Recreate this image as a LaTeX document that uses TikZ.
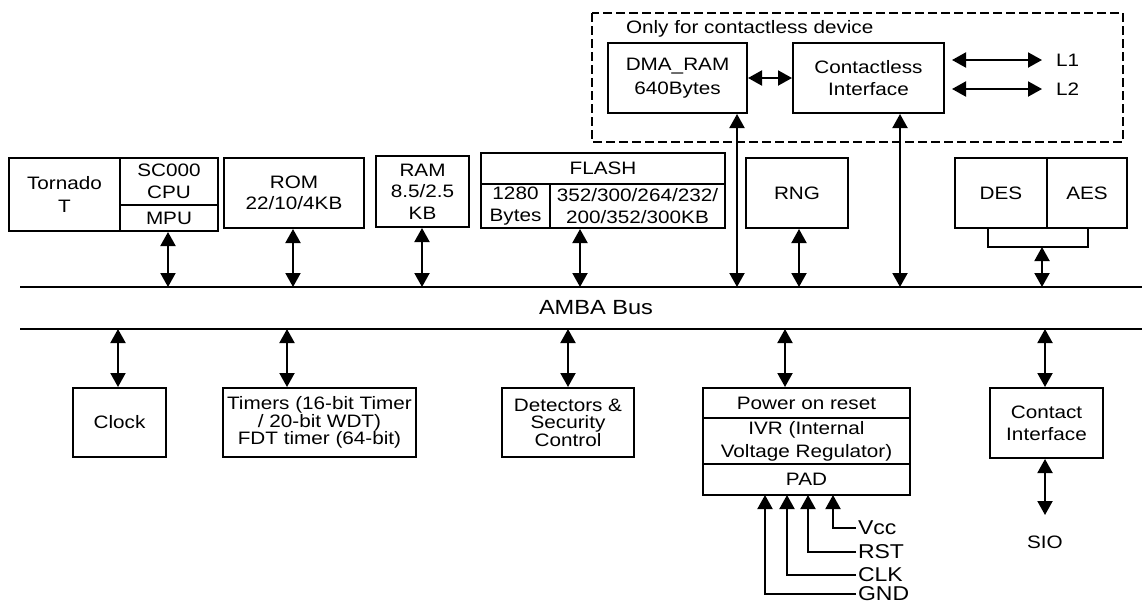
\documentclass[tikz,border=0pt]{standalone}
\usepackage{fontspec}
\setmainfont{Liberation Sans}[FakeStretch=1.15]
\usetikzlibrary{arrows.meta}
\begin{document}
\begin{tikzpicture}[x=1pt,y=-1pt,line width=2pt,
  >={Triangle[width=15pt,length=14pt]},
  box/.style={draw,line width=2pt,inner sep=0pt,align=center,font=\fontsize{18}{22}\selectfont},
  tight/.style={font=\fontsize{18}{17.5}\selectfont},
  lbl/.style={inner sep=0pt,font=\fontsize{18}{22}\selectfont},
  biglbl/.style={inner sep=1pt,font=\fontsize{20}{24}\selectfont},
  busline/.style={line width=2pt},
  dashbox/.style={line width=2pt,dash pattern=on 9pt off 4pt}]
\useasboundingbox (0,0) rectangle (1142,603);
% dashed region
\draw[dashbox] (592,13) rectangle (1123,142);
\node[lbl,anchor=base west] (only) at (625,33) {Only for contactless device};
\node[box,minimum width=139pt,minimum height=70pt,font=\fontsize{18}{24}\selectfont] (dma) at (677.5,78) {DMA\_RAM\\640Bytes};
\node[box,minimum width=151pt,minimum height=70pt] (ci) at (868.5,78) {Contactless\\Interface};
\draw[<->] (dma.east) -- (ci.west);
\coordinate (l1s) at (952,60); \coordinate (l1e) at (1042,60);
\coordinate (l2s) at (952,89); \coordinate (l2e) at (1042,89);
\node[lbl,anchor=west] (l1) at (1055,60) {L1};
\node[lbl,anchor=west] (l2) at (1055,89) {L2};
\draw[<->] (l1s) -- (l1e);
\draw[<->] (l2s) -- (l2e);
% upper blocks
\node[box,minimum width=111pt,minimum height=73pt,font=\fontsize{18}{23}\selectfont] (torn) at (64.5,194.5) {Tornado\\T};
\node[box,minimum width=98pt,minimum height=47pt] (cpu) at (169,181.5) {SC000\\CPU};
\node[box,minimum width=98pt,minimum height=26pt] (mpu) at (169,218) {MPU};
\node[box,minimum width=140pt,minimum height=70pt,font=\fontsize{18}{21}\selectfont] (rom) at (294,193) {ROM\\22/10/4KB};
\node[box,minimum width=93pt,minimum height=71pt,font=\fontsize{18}{21.5}\selectfont] (ram) at (422.5,191.5) {RAM\\8.5/2.5\\KB};
\node[box,minimum width=244pt,minimum height=31pt] (flash) at (603,168.5) {FLASH};
\node[box,minimum width=69pt,minimum height=44pt] (fla) at (515.5,206) {1280\\Bytes};
\node[box,minimum width=175pt,minimum height=44pt] (flb) at (637.5,206) {352/300/264/232/\\200/352/300KB};
\node[box,minimum width=102pt,minimum height=70pt] (rng) at (797,193) {RNG};
\node[box,minimum width=92pt,minimum height=70pt] (des) at (1001,193) {DES};
\node[box,minimum width=80pt,minimum height=70pt] (aes) at (1087,193) {AES};
% bus
\coordinate (busTL) at (20,287); \coordinate (busTR) at (1142,287);
\coordinate (busBL) at (20,329); \coordinate (busBR) at (1142,329);
\draw[busline] (busTL) -- (busTR);
\draw[busline] (busBL) -- (busBR);
\node[inner sep=0pt,font=\fontsize{20.5}{24}\selectfont] (amba) at (596,308) {AMBA Bus};
% upper arrows
\coordinate (bCPU) at (168,287);
\coordinate (bROM) at (293,287);
\coordinate (bRAM) at (422,287);
\coordinate (bFL) at (580,287);
\coordinate (bDMA) at (737,287);
\coordinate (bRNG) at (799,287);
\coordinate (bCI) at (900,287);
\coordinate (bDES) at (1042,287);
\draw[<->] (bCPU |- mpu.south) -- (bCPU);
\draw[<->] (bROM |- rom.south) -- (bROM);
\draw[<->] (bRAM |- ram.south) -- (bRAM);
\draw[<->] (bFL |- flb.south) -- (bFL);
\draw[<->] (bDMA |- dma.south) -- (bDMA);
\draw[<->] (bRNG |- rng.south) -- (bRNG);
\draw[<->] (bCI |- ci.south) -- (bCI);
\coordinate (brL) at (988,247); \coordinate (brR) at (1088,247);
\draw (des.south -| brL) -- (brL) -- (brR) -- (aes.south -| brR);
\draw[<->] (bDES |- brL) -- (bDES);
% lower blocks
\node[box,minimum width=93pt,minimum height=69pt] (clock) at (119.5,422.5) {Clock};
\node[box,tight,minimum width=193pt,minimum height=69pt] (timers) at (319.5,422.5) {Timers (16-bit Timer\\/ 20-bit WDT)\\FDT timer (64-bit)};
\node[box,tight,minimum width=132pt,minimum height=69pt] (det) at (568,422.5) {Detectors \&\\Security\\Control};
\node[box,minimum width=207pt,minimum height=30pt] (por) at (806.5,403) {Power on reset};
\node[box,minimum width=207pt,minimum height=46pt,font=\fontsize{18}{23}\selectfont] (ivr) at (806.5,441) {IVR (Internal\\Voltage Regulator)};
\node[box,minimum width=207pt,minimum height=31pt] (pad) at (806.5,479.5) {PAD};
\node[box,minimum width=113pt,minimum height=70pt] (cont) at (1046.5,423) {Contact\\Interface};
% lower arrows
\coordinate (cCLK) at (118,329);
\coordinate (cTIM) at (287,329);
\coordinate (cDET) at (568,329);
\coordinate (cPOR) at (785,329);
\coordinate (cCON) at (1045,329);
\draw[<->] (cCLK) -- (cCLK |- clock.north);
\draw[<->] (cTIM) -- (cTIM |- timers.north);
\draw[<->] (cDET) -- (cDET |- det.north);
\draw[<->] (cPOR) -- (cPOR |- por.north);
\draw[<->] (cCON) -- (cCON |- cont.north);
\coordinate (sioT) at (1045,515);
\draw[<->] (cCON |- cont.south) -- (sioT);
\node[lbl] (sio) at (1045,542) {SIO};
% PAD inputs
\node[biglbl,anchor=west] (vcc) at (856,528) {Vcc};
\node[biglbl,anchor=west] (rst) at (856,552) {RST};
\node[biglbl,anchor=west] (clk) at (856,575) {CLK};
\node[biglbl,anchor=west] (gnd) at (856,594) {GND};
\coordinate (pVcc) at (833,495);
\coordinate (pRst) at (808,495);
\coordinate (pClk) at (787,495);
\coordinate (pGnd) at (765,495);
\draw[->] (vcc.west) -| (pVcc);
\draw[->] (rst.west) -| (pRst);
\draw[->] (clk.west) -| (pClk);
\draw[->] (gnd.west) -| (pGnd);
\end{tikzpicture}
\end{document}
